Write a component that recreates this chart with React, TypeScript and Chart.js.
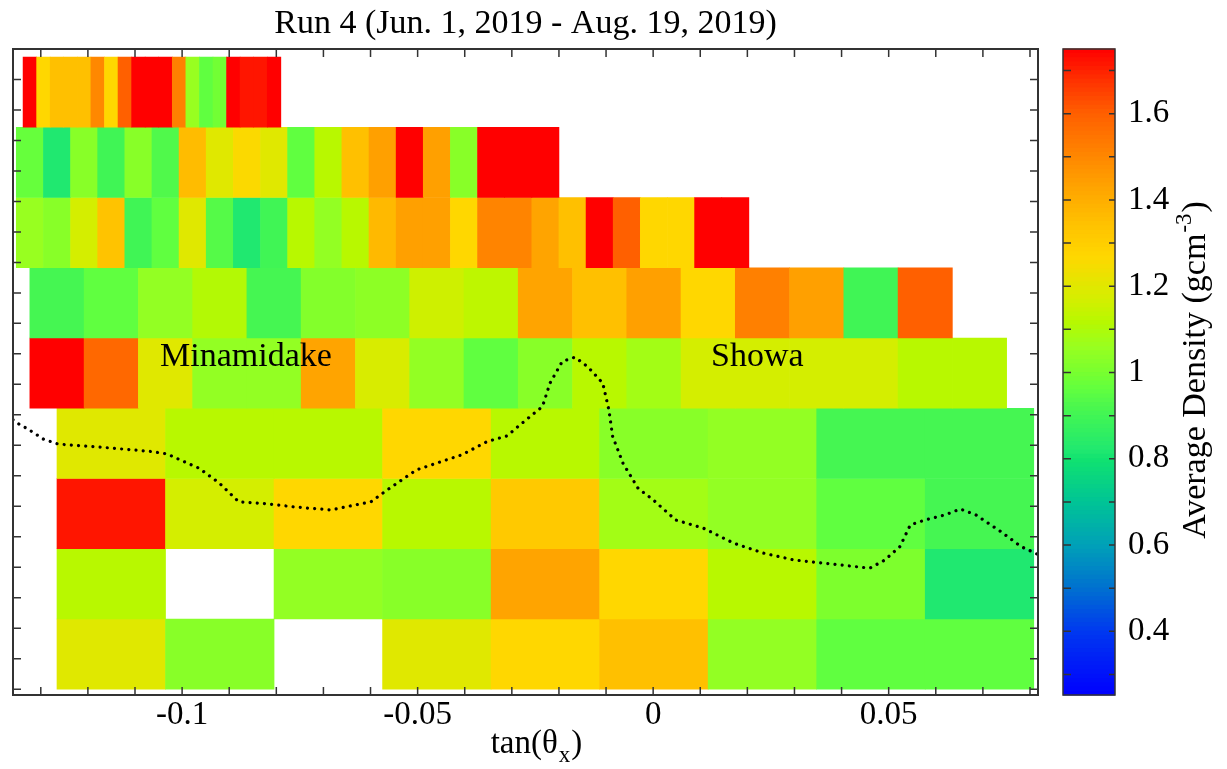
import React, { useEffect, useRef } from 'react';
import { Chart, registerables } from 'chart.js';

Chart.register(...registerables);

const FONT = "'Liberation Serif', 'Times New Roman', serif";

const TITLE = 'Run 4 (Jun. 1, 2019 - Aug. 19, 2019)';
const X_TITLE_MAIN = 'tan(θ';
const X_TITLE_SUB = 'x';
const X_TITLE_END = ')';
const Z_TITLE_MAIN = 'Average Density (gcm';
const Z_TITLE_SUP = '-3';
const Z_TITLE_END = ')';

const X_RANGE = [-0.1359, 0.0817];
const Y_RANGE = [-0.0019, 0.21];
const Z_RANGE = [0.2523, 1.75];
const X_TICK_STEP = 0.01;
const X_LABEL_STEP = 0.05;
const Y_TICK_STEP = 0.01;
const Z_TICK_STEP = 0.1;
const Z_LABEL_STEP = 0.2;
const ROW_HEIGHT = 0.02304;

// rows listed from top to bottom
const ROW_X_START = [-0.13376, -0.1352, -0.1352, -0.13232, -0.13232, -0.12656, -0.12656, -0.12656, -0.12656];
const ROW_BIN_WIDTH = [0.00288, 0.00576, 0.00576, 0.01152, 0.01152, 0.02304, 0.02304, 0.02304, 0.02304];

const ROW_1 = [1.76, 1.27, 1.35, 1.35, 1.35, 1.5, 1.27, 1.6, 1.76, 1.76, 1.76, 1.52, 1.06, 0.96, 0.99, 1.76, 1.72, 1.72, 1.76];
const ROW_2 = [0.97, 0.82, 1.03, 0.9, 1.03, 0.93, 1.36, 1.2, 1.26, 1.2, 0.96, 1.12, 1.35, 1.44, 1.76, 1.44, 1.03, 1.76, 1.76, 1.76];
const ROW_3 = [1.06, 1.03, 1.17, 1.34, 0.9, 0.96, 1.2, 0.94, 0.82, 0.9, 1.12, 1.05, 1.12, 1.37, 1.44, 1.44, 1.27, 1.51, 1.51, 1.43, 1.35, 1.76, 1.6, 1.27, 1.27, 1.76, 1.76];
const ROW_4 = [0.91, 0.96, 1.05, 1.11, 0.91, 1.02, 1.04, 1.16, 1.13, 1.43, 1.35, 1.44, 1.27, 1.52, 1.44, 0.9, 1.6];
const ROW_5 = [1.76, 1.58, 1.2, 1.05, 1.05, 1.43, 1.18, 1.05, 0.96, 1.03, 1.12, 1.08, 1.17, 1.17, 1.17, 1.17, 1.12, 1.12];
const ROW_6 = [1.2, 1.12, 1.12, 1.27, 1.12, 1.03, 1.05, 0.91, 0.91];
const ROW_7 = [1.72, 1.17, 1.27, 1.12, 1.32, 1.08, 1.05, 0.96, 0.91];
const ROW_8 = [1.12, null, 1.05, 1.03, 1.43, 1.27, 1.12, 1.01, 0.82];
const ROW_9 = [1.2, 1.03, null, 1.2, 1.27, 1.35, 1.05, 0.96, 0.96];
const ROWS: (number | null)[][] = [ROW_1, ROW_2, ROW_3, ROW_4, ROW_5, ROW_6, ROW_7, ROW_8, ROW_9];

const CONTOUR_X = [-0.1359, -0.1344, -0.133, -0.1294, -0.1263, -0.1174, -0.1068, -0.1032, -0.1001, -0.0964, -0.0921, -0.088, -0.082, -0.0756, -0.0684, -0.0599, -0.0567, -0.0503, -0.0449, -0.0406, -0.0353, -0.031, -0.0278, -0.0235, -0.0219, -0.0193, -0.0166, -0.0139, -0.0107, -0.0094, -0.0086, -0.0064, -0.0032, 0.0, 0.0048, 0.0107, 0.0171, 0.0235, 0.0299, 0.0364, 0.046, 0.0492, 0.0524, 0.0546, 0.0577, 0.062, 0.0652, 0.0685, 0.0738, 0.0781, 0.0817];
const CONTOUR_Y = [0.0884, 0.0867, 0.0856, 0.082, 0.0804, 0.0794, 0.078, 0.0772, 0.075, 0.0725, 0.0676, 0.0615, 0.0608, 0.0597, 0.0588, 0.0615, 0.0651, 0.0719, 0.0747, 0.0769, 0.0812, 0.0831, 0.0873, 0.0927, 0.1004, 0.1075, 0.1089, 0.1058, 0.1004, 0.0916, 0.0829, 0.0741, 0.0659, 0.0621, 0.0555, 0.0528, 0.0479, 0.0446, 0.0424, 0.0413, 0.0397, 0.0424, 0.0468, 0.0539, 0.0555, 0.0572, 0.0591, 0.0572, 0.0517, 0.0468, 0.0442];

const LABEL_TEXT = ['Minamidake', 'Showa'];
const LABEL_X = [-0.1047, 0.0123];
const LABEL_Y = [0.1061, 0.1061];

const PALETTE_VALUES = [0.2523, 0.4, 0.5, 0.6, 0.7, 0.8, 0.82, 0.9, 0.94, 0.96, 1.0, 1.03, 1.06, 1.12, 1.17, 1.2, 1.27, 1.35, 1.44, 1.52, 1.6, 1.68, 1.75];
const PALETTE_COLORS = [
  [0, 0, 255], [0, 56, 240], [0, 112, 208], [0, 160, 184], [0, 196, 150], [16, 226, 112], [32, 232, 112],
  [64, 245, 85], [85, 250, 72], [96, 255, 64], [120, 255, 48], [136, 255, 40], [152, 255, 32], [184, 248, 0],
  [212, 238, 0], [224, 232, 0], [255, 215, 0], [255, 192, 0], [255, 160, 0], [255, 128, 0], [255, 96, 0],
  [255, 48, 0], [255, 0, 0],
];

function densityColor(v: number): string {
  const vs = PALETTE_VALUES;
  const cs = PALETTE_COLORS;
  let c = cs[cs.length - 1];
  if (v <= vs[0]) c = cs[0];
  else if (v < vs[vs.length - 1]) {
    for (let i = 1; i < vs.length; i++) {
      if (v <= vs[i]) {
        const t = (v - vs[i - 1]) / (vs[i] - vs[i - 1]);
        c = [0, 1, 2].map((k) => Math.round(cs[i - 1][k] + t * (cs[i][k] - cs[i - 1][k])));
        break;
      }
    }
  }
  return `rgb(${c[0]},${c[1]},${c[2]})`;
}

const CB_GAP = 25;
const CB_WIDTH = 52;
const CB_AXIS_WIDTH = 160;
const AXIS_COLOR = '#333';

function isMultiple(v: number, step: number) {
  return Math.abs(Math.round(v / step) * step - v) < 1e-7;
}

const decorPlugin = {
  id: 'decor',
  beforeDraw(chart: any) {
    const { ctx } = chart;
    ctx.save();
    ctx.fillStyle = '#fff';
    ctx.fillRect(0, 0, chart.width, chart.height);
    ctx.restore();
  },
  afterDatasetsDraw(chart: any) {
    const { ctx, chartArea: a, scales } = chart;
    const xs = scales.x;
    const ys = scales.y;
    const cb = scales.cb;
    ctx.save();

    // plot frame
    ctx.strokeStyle = AXIS_COLOR;
    ctx.lineWidth = 2;
    ctx.strokeRect(a.left, a.top, a.right - a.left, a.bottom - a.top);

    ctx.lineWidth = 1.5;
    ctx.beginPath();
    for (let k = Math.ceil(X_RANGE[0] / X_TICK_STEP); k <= Math.floor(X_RANGE[1] / X_TICK_STEP); k++) {
      const px = xs.getPixelForValue(k * X_TICK_STEP);
      ctx.moveTo(px, a.bottom);
      ctx.lineTo(px, a.bottom - 8);
      ctx.moveTo(px, a.top);
      ctx.lineTo(px, a.top + 8);
    }
    for (let k = Math.ceil(Y_RANGE[0] / Y_TICK_STEP); k <= Math.floor(Y_RANGE[1] / Y_TICK_STEP); k++) {
      const py = ys.getPixelForValue(k * Y_TICK_STEP);
      ctx.moveTo(a.left, py);
      ctx.lineTo(a.left + 8, py);
      ctx.moveTo(a.right, py);
      ctx.lineTo(a.right - 8, py);
    }
    ctx.stroke();

    // colour bar
    const cbL = a.right + CB_GAP;
    const cbR = cbL + CB_WIDTH;
    const band = 0.01;
    for (let z = Z_RANGE[0]; z < Z_RANGE[1]; z += band) {
      const z1 = Math.min(z + band, Z_RANGE[1]);
      const p0 = cb.getPixelForValue(z);
      const p1 = cb.getPixelForValue(z1);
      ctx.fillStyle = densityColor((z + z1) / 2);
      ctx.fillRect(cbL, p1 - 0.5, CB_WIDTH, p0 - p1 + 1);
    }
    ctx.strokeStyle = AXIS_COLOR;
    ctx.lineWidth = 1.5;
    ctx.strokeRect(cbL, a.top, CB_WIDTH, a.bottom - a.top);
    ctx.beginPath();
    for (let k = Math.ceil(Z_RANGE[0] / Z_TICK_STEP); k <= Math.floor(Z_RANGE[1] / Z_TICK_STEP); k++) {
      const py = cb.getPixelForValue(k * Z_TICK_STEP);
      ctx.moveTo(cbL, py);
      ctx.lineTo(cbL + 8, py);
      ctx.moveTo(cbR, py);
      ctx.lineTo(cbR - 6, py);
    }
    ctx.stroke();

    // annotations
    ctx.fillStyle = '#000';
    ctx.font = `34px ${FONT}`;
    ctx.textAlign = 'left';
    ctx.textBaseline = 'alphabetic';
    LABEL_TEXT.forEach((t, i) => {
      ctx.fillText(t, xs.getPixelForValue(LABEL_X[i]), ys.getPixelForValue(LABEL_Y[i]));
    });

    // title
    ctx.textAlign = 'center';
    ctx.fillText(TITLE, (a.left + a.right) / 2, 33);

    // x axis title with subscript
    ctx.textAlign = 'left';
    const mainFont = `33px ${FONT}`;
    const subFont = `23px ${FONT}`;
    ctx.font = mainFont;
    const w1 = ctx.measureText(X_TITLE_MAIN).width;
    const w3 = ctx.measureText(X_TITLE_END).width;
    ctx.font = subFont;
    const w2 = ctx.measureText(X_TITLE_SUB).width;
    const total = w1 + w2 + w3 + 2;
    let tx = (a.left + a.right) / 2 + 11 - total / 2;
    const ty = a.bottom + 58;
    ctx.font = mainFont;
    ctx.fillText(X_TITLE_MAIN, tx, ty);
    tx += w1 + 1;
    ctx.font = subFont;
    ctx.fillText(X_TITLE_SUB, tx, ty + 9);
    tx += w2 + 1;
    ctx.font = mainFont;
    ctx.fillText(X_TITLE_END, tx, ty);

    // colour bar title (rotated) with superscript
    ctx.save();
    ctx.translate(cbR + 90, (a.top + a.bottom) / 2 - 2);
    ctx.rotate(-Math.PI / 2);
    const zMain = `34px ${FONT}`;
    const zSup = `23px ${FONT}`;
    ctx.font = zMain;
    const u1 = ctx.measureText(Z_TITLE_MAIN).width;
    const u3 = ctx.measureText(Z_TITLE_END).width;
    ctx.font = zSup;
    const u2 = ctx.measureText(Z_TITLE_SUP).width;
    let ux = -(u1 + u2 + u3 + 2) / 2;
    ctx.font = zMain;
    ctx.fillText(Z_TITLE_MAIN, ux, 0);
    ux += u1 + 1;
    ctx.font = zSup;
    ctx.fillText(Z_TITLE_SUP, ux, -14);
    ux += u2 + 1;
    ctx.font = zMain;
    ctx.fillText(Z_TITLE_END, ux, 0);
    ctx.restore();

    ctx.restore();
  },
};

export default function App() {
  const ref = useRef<HTMLCanvasElement | null>(null);

  useEffect(() => {
    document.body.style.margin = '0';
    const canvas = ref.current;
    if (!canvas) return;

    const rowCenters = ROWS.map((_, r) => (ROWS.length - r - 0.5) * ROW_HEIGHT);

    const datasets: any[] = [
      {
        type: 'line',
        indexAxis: 'x',
        data: CONTOUR_X.map((x, i) => ({ x, y: CONTOUR_Y[i] })),
        borderColor: '#000',
        borderWidth: 3.2,
        borderDash: [0.01, 7.2],
        borderCapStyle: 'round',
        pointRadius: 0,
        fill: false,
        tension: 0,
        order: 0,
        xAxisID: 'x',
        yAxisID: 'y',
      },
    ];

    ROWS.forEach((vals, r) => {
      const cells: any[] = [];
      vals.forEach((v, j) => {
        if (v == null) return;
        const x0 = ROW_X_START[r] + j * ROW_BIN_WIDTH[r];
        cells.push({ x: [x0, x0 + ROW_BIN_WIDTH[r]], y: rowCenters[r], v });
      });
      datasets.push({
        type: 'bar',
        indexAxis: 'y',
        data: cells,
        backgroundColor: cells.map((c) => densityColor(c.v)),
        borderWidth: 0,
        grouped: false,
        categoryPercentage: 1,
        barPercentage: 1,
        order: 1,
        xAxisID: 'x',
        yAxisID: 'y',
      });
    });

    const tickFont = { family: FONT, size: 33 };

    const chart = new Chart(canvas, {
      type: 'bar',
      data: { datasets },
      plugins: [decorPlugin],
      options: {
        animation: false,
        responsive: false,
        events: [],
        indexAxis: 'y',
        layout: { padding: { left: 13, top: 49, right: 1227 - 1038 - CB_AXIS_WIDTH, bottom: 34 } },
        plugins: { legend: { display: false }, tooltip: { enabled: false }, title: { display: false } },
        scales: {
          x: {
            type: 'linear',
            position: 'bottom',
            min: X_RANGE[0],
            max: X_RANGE[1],
            offset: false,
            grid: { display: false, drawTicks: false },
            border: { display: false },
            ticks: {
              stepSize: X_TICK_STEP,
              autoSkip: false,
              maxRotation: 0,
              minRotation: 0,
              padding: 1,
              color: '#000',
              font: tickFont,
              callback: (value: any) => {
                const v = Number(value);
                if (!isMultiple(v, X_LABEL_STEP)) return null;
                return String(Math.round(v * 100) / 100 + 0);
              },
            },
            afterFit: (s: any) => {
              s.height = 40;
            },
          },
          y: {
            type: 'linear',
            position: 'left',
            display: false,
            min: Y_RANGE[0],
            max: Y_RANGE[1],
            offset: false,
            afterBuildTicks: (s: any) => {
              s.ticks = rowCenters.map((value) => ({ value }));
            },
          },
          cb: {
            type: 'linear',
            axis: 'y',
            position: 'right',
            min: Z_RANGE[0],
            max: Z_RANGE[1],
            offset: false,
            grid: { display: false, drawTicks: true, tickLength: CB_GAP + CB_WIDTH + 10 },
            border: { display: false },
            ticks: {
              stepSize: Z_TICK_STEP,
              padding: 3,
              color: '#000',
              font: tickFont,
              callback: (value: any) => {
                const v = Number(value);
                if (!isMultiple(v, Z_LABEL_STEP)) return null;
                return String(Math.round(v * 10) / 10);
              },
            },
            afterFit: (s: any) => {
              s.width = CB_AXIS_WIDTH;
            },
          },
        } as any,
      } as any,
    });

    return () => chart.destroy();
  }, []);

  return (
    <div style={{ position: 'absolute', left: 0, top: 0, width: 1227, height: 769, background: '#fff' }}>
      <canvas ref={ref} width={1227} height={769} style={{ display: 'block' }} />
    </div>
  );
}
